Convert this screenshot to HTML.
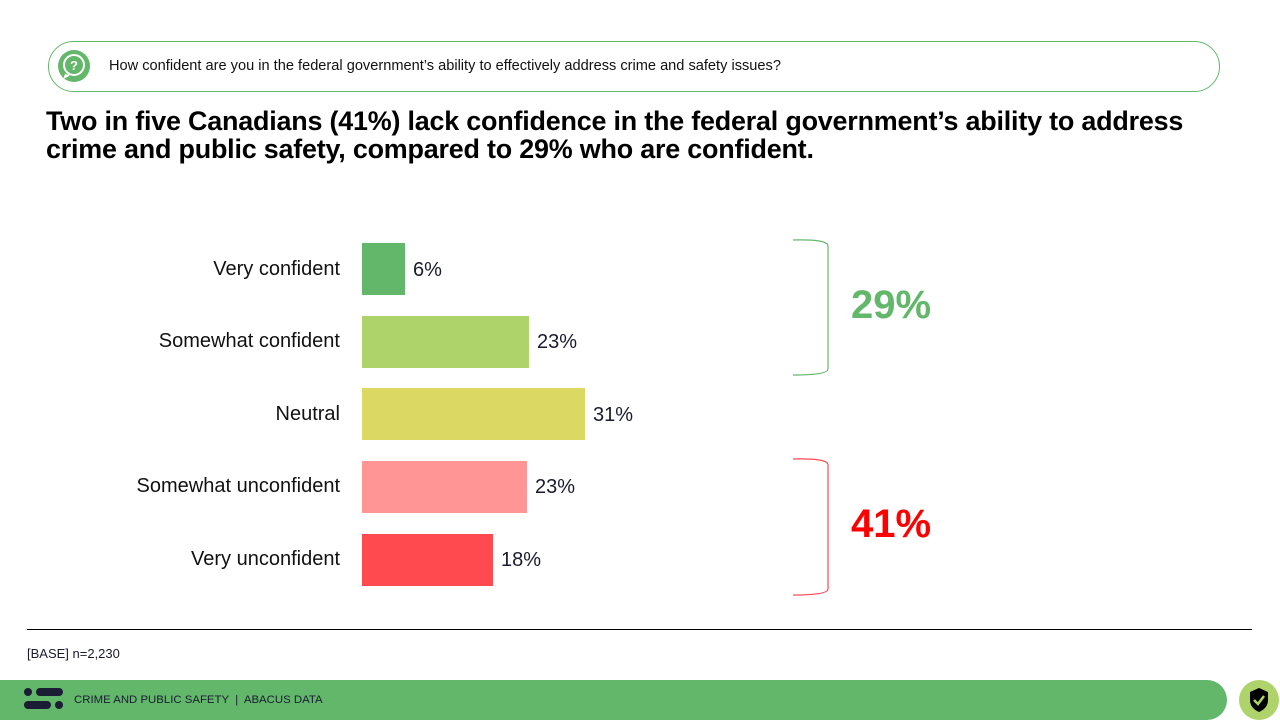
<!DOCTYPE html>
<html><head><meta charset="utf-8"><style>
body{margin:0;width:1280px;height:720px;position:relative;background:#fff;font-family:"Liberation Sans",sans-serif;overflow:hidden;color:#000}
.a{position:absolute;white-space:nowrap}
.lbl{position:absolute;right:940px;font-size:20px;color:#111}
.bar{position:absolute;left:362px;height:52px}
.val{position:absolute;font-size:20px;color:#1a1a2e}
</style></head><body>
<div class="a" style="left:48px;top:41px;width:1170px;height:49px;border:1px solid #63b76a;border-radius:26px"></div>
<svg class="a" style="left:57px;top:49px" width="34" height="34" viewBox="0 0 34 34"><circle cx="17" cy="17" r="16" fill="#63b76a"/><circle cx="17" cy="16" r="10" fill="none" stroke="#fff" stroke-width="2"/><path d="M9 25 L8 28 L12 26" fill="none" stroke="#fff" stroke-width="2"/><text x="17" y="21" text-anchor="middle" font-size="13" font-weight="bold" fill="#fff" font-family="Liberation Sans">?</text></svg>
<div class="a" style="left:109px;top:58px;font-size:14.6px;color:#111">How confident are you in the federal government’s ability to effectively address crime and safety issues?</div>
<div class="a" style="left:46px;top:107px;font-size:26.9px;font-weight:bold;line-height:28px;letter-spacing:-0.2px">Two in five Canadians (41%) lack confidence in the federal government’s ability to address<br>crime and public safety, compared to 29% who are confident.</div>

<div class="lbl" style="top:258px">Very confident</div>
<div class="lbl" style="top:330px">Somewhat confident</div>
<div class="lbl" style="top:403px">Neutral</div>
<div class="lbl" style="top:475px">Somewhat unconfident</div>
<div class="lbl" style="top:548px">Very unconfident</div>

<div class="bar" style="top:243px;width:43px;background:#63b76a"></div>
<div class="bar" style="top:316px;width:167px;background:#aed36b"></div>
<div class="bar" style="top:388px;width:223px;background:#dbd963"></div>
<div class="bar" style="top:461px;width:165px;background:#ff9595"></div>
<div class="bar" style="top:534px;width:131px;background:#ff4a50"></div>

<div class="val" style="left:413px;top:259px">6%</div>
<div class="val" style="left:537px;top:331px">23%</div>
<div class="val" style="left:593px;top:404px">31%</div>
<div class="val" style="left:535px;top:476px">23%</div>
<div class="val" style="left:501px;top:549px">18%</div>

<svg class="a" style="left:790px;top:236px" width="45" height="365"><path d="M3 4 Q38 3 38 10 V133 Q38 139 3 139" fill="none" stroke="#63b76a" stroke-width="1.2"/><path d="M3 223 Q38 222 38 229 V353 Q38 359 3 359" fill="none" stroke="#ff4a50" stroke-width="1.2"/></svg>
<div class="a" style="left:851px;top:283px;font-size:40px;font-weight:bold;color:#63b76a">29%</div>
<div class="a" style="left:851px;top:502px;font-size:40px;font-weight:bold;color:#ff0000">41%</div>

<div class="a" style="left:27px;top:629px;width:1225px;height:1px;background:#000"></div>
<div class="a" style="left:27px;top:646px;font-size:13px;color:#1a1a2e">[BASE] n=2,230</div>

<div class="a" style="left:0;top:680px;width:1227px;height:40px;background:#63b76a;border-radius:0 20px 20px 0"></div>
<svg class="a" style="left:24px;top:688px" width="40" height="24"><circle cx="4" cy="4" r="4" fill="#1a1d33"/><rect x="12" y="0" width="27" height="8" rx="4" fill="#1a1d33"/><rect x="0" y="13" width="27" height="8" rx="4" fill="#1a1d33"/><circle cx="35" cy="17" r="4" fill="#1a1d33"/></svg>
<div class="a" style="left:74px;top:694px;font-size:11.4px;color:#1a1d33">CRIME AND PUBLIC SAFETY &nbsp;|&nbsp; ABACUS DATA</div>
<svg class="a" style="left:1239px;top:680px" width="41" height="40"><circle cx="20" cy="20" r="20" fill="#aed36b"/><path d="M20 8 L29 12 V20 Q29 28 20 32 Q11 28 11 20 V12 Z" fill="#000"/><path d="M15 20 L19 24 L25 16" fill="none" stroke="#aed36b" stroke-width="2.5"/></svg>
</body></html>
